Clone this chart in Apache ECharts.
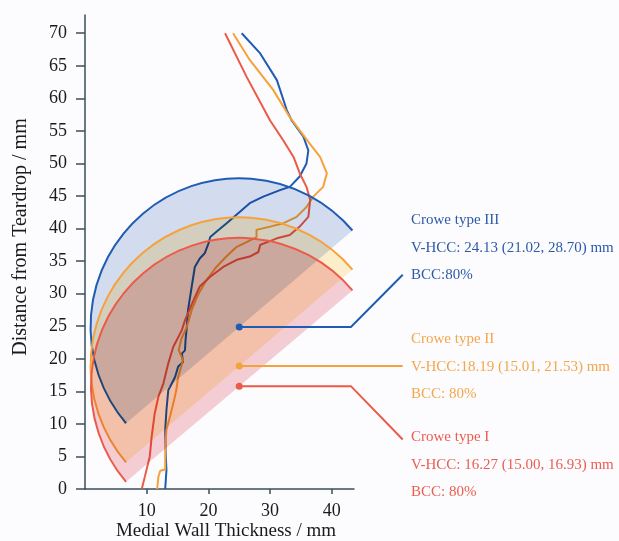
<!doctype html>
<html>
<head>
    <title>Crowe type medial wall thickness</title>
    <script src="https://cdn.jsdelivr.net/npm/echarts@6/dist/echarts.min.js"></script>
</head>
<style>
    html, body { margin: 0; padding: 0; background: #fcfcfe; }
    #main { width: 619px; height: 541px; }
</style>
<body>
<div id="main"></div>
<script>
  // medial wall thickness (x, mm) against distance from teardrop (y, mm)
  var blueCurve = [[13,0],[13.2,2.9],[13.1,5],[13,9.1],[13.2,12.1],[13.5,15.2],[13.8,15.7],[14.6,17.2],[15.1,18.8],
    [15.9,19.5],[15.7,20.8],[16.2,21.3],[16.3,22.9],[16.5,24.9],[16.7,27.5],[17.3,31.1],[17.8,34.1],[18.6,35.4],
    [19.4,36.2],[20,37.7],[20.3,38.7],[21.3,39.5],[23.2,41],[26.7,43.9],[28.9,44.9],[31.6,45.9],[33.2,46.4],
    [34.8,48],[35.9,50],[36.2,52],[35.4,54.1],[33.5,56.6],[32.7,58.2],[31.1,62.8],[28.4,66.9],[25.4,70]];
  var orangeCurve = [[11.7,0],[11.9,1.9],[12.2,2.8],[13,3],[13,4.5],[13.1,7.5],[13.2,9.1],[13.8,11.2],[14.4,13.5],
    [14.8,15.2],[15.1,17.2],[15.9,19.8],[15.2,21.3],[15.6,23],[16.5,24.9],[17.3,27.5],[18.4,30],[19.7,32.1],
    [21.3,34.1],[22.9,35.7],[24.6,37.2],[25.7,37.7],[27.8,38.7],[27.8,39.8],[30,40.3],[32.1,40.8],[34.3,41.8],
    [35.9,43.3],[37,44.9],[38.6,46.4],[39.2,48.5],[38.1,51],[36.2,53.3],[33.2,57.1],[30.5,61.3],[26.7,65.9],[24,70]];
  var redCurve = [[9.2,0],[9.7,1.9],[10.5,5],[10.8,8],[11.3,11.6],[11.9,14.2],[12.7,16.2],[13.5,19.3],[14.3,21.8],
    [15.7,24.4],[16.2,25.9],[17.6,29],[18.6,31.1],[20.3,32.6],[22.4,34.1],[24.6,35.2],[26.7,35.7],[28.1,36.4],
    [28.4,37.5],[31.1,38.5],[33.2,39],[34.8,40.3],[36.2,41.8],[36.5,44.4],[35.9,46.4],[34.8,48.5],[33.8,51],
    [32.1,53.6],[30,56.6],[26.2,63.3],[22.7,70]];

  // half discs: centre and lower-left end of the arc
  var discCentres = [[25,24.9],[25,18.9],[25,15.8]];
  var discEnds = [[6.65,10.1],[6.65,4.1],[6.65,1.1]];

  // leader lines from each centre to its label
  var leaders = [
    [[25,24.9],[43.1,24.9],[51.5,32.9]],
    [[25,18.9],[51.5,18.9]],
    [[25,15.8],[43.1,15.8],[51.5,7.6]]
  ];

  var groupNames = ['Crowe type III', 'Crowe type II', 'Crowe type I'];
  var hccLabels = ['V-HCC: 24.13 (21.02, 28.70) mm', 'V-HCC:18.19 (15.01, 21.53) mm', 'V-HCC: 16.27 (15.00, 16.93) mm'];
  var bccLabels = ['BCC:80%', 'BCC: 80%', 'BCC: 80%'];

  var yTicks = [0,5,10,15,20,25,30,35,40,45,50,55,60,65,70];
  var xTicks = [10,20,30,40];

  var lineColors = ['#1f5cb4', '#f5a23a', '#ec5a48'];
  // disc fills are multiplied onto what lies below, like the overlapping shading in the figure
  var fillColors = ['#d6deef', '#fff0cc', '#f6d0d4'];
  var textColors = ['#2d5aa8', '#f4a64c', '#ea5e4e'];
  var serif = '"Liberation Serif", "DejaVu Serif", serif';
  var axisColor = '#3a4f5c';

  var myChart = echarts.init(document.getElementById('main'));

  var discData = discCentres.map(function (c, i) {
    return [c[0], c[1], discEnds[i][0], discEnds[i][1]];
  });

  var texts = [];
  var textTop = [218, 337, 435];
  groupNames.forEach(function (n, i) {
    [n, hccLabels[i], bccLabels[i]].forEach(function (t, k) {
      texts.push({
        type: 'text', left: 411, top: textTop[i] + k * 27.5 - 9, z: 10,
        style: { text: t, fill: textColors[i], font: '15px ' + serif }
      });
    });
  });
  texts.push({
    type: 'text', x: 21, y: 237, rotation: Math.PI / 2, z: 10,
    style: { text: 'Distance from Teardrop / mm', fill: '#1a1a1a', font: '20px ' + serif,
      align: 'center', verticalAlign: 'middle' }
  });
  texts.push({
    type: 'text', x: 226, y: 531, z: 10,
    style: { text: 'Medial Wall Thickness / mm', fill: '#1a1a1a', font: '19px ' + serif,
      align: 'center', verticalAlign: 'middle' }
  });

  var option = {
    backgroundColor: '#fcfcfe',
    animation: false,
    grid: { left: 85, right: 265, top: 15, bottom: 52, outerBoundsMode: 'none' },
    xAxis: {
      type: 'value', min: 0, max: 43.6,
      splitLine: { show: false },
      axisLine: { lineStyle: { color: axisColor, width: 1.5 } },
      axisTick: { length: 5, lineStyle: { color: axisColor, width: 1.5 }, customValues: xTicks },
      axisLabel: { fontFamily: serif, fontSize: 18, color: '#1a1a1a', margin: 9, customValues: xTicks }
    },
    yAxis: {
      type: 'value', min: 0, max: 72.8,
      splitLine: { show: false },
      axisLine: { show: true, lineStyle: { color: axisColor, width: 1.5 } },
      axisTick: { show: true, length: 9, lineStyle: { color: axisColor, width: 1.5 }, customValues: yTicks },
      axisLabel: { fontFamily: serif, fontSize: 18, color: '#1a1a1a', margin: 18, customValues: yTicks }
    },
    graphic: texts,
    series: [
      { type: 'line', data: blueCurve, showSymbol: false, z: 1, lineStyle: { color: lineColors[0], width: 2 } },
      { type: 'line', data: orangeCurve, showSymbol: false, z: 1, lineStyle: { color: lineColors[1], width: 2 } },
      { type: 'line', data: redCurve, showSymbol: false, z: 1, lineStyle: { color: lineColors[2], width: 2 } },
      {
        type: 'custom', z: 2, data: discData,
        encode: { x: [0, 2], y: [1, 3] },
        renderItem: function (params, api) {
          var i = params.dataIndex;
          var c = api.coord([api.value(0), api.value(1)]);
          var e = api.coord([api.value(2), api.value(3)]);
          var r = Math.sqrt((e[0] - c[0]) * (e[0] - c[0]) + (e[1] - c[1]) * (e[1] - c[1]));
          var a = Math.atan2(e[1] - c[1], e[0] - c[0]);
          var shape = { cx: c[0], cy: c[1], r: r, r0: 0, startAngle: a, endAngle: a + Math.PI, clockwise: true };
          return {
            type: 'group',
            children: [
              { type: 'sector', name: 'disc', shape: shape, style: { fill: fillColors[i] } },
              { type: 'arc', shape: shape, style: { stroke: lineColors[i], lineWidth: 2, fill: null } }
            ]
          };
        }
      },
      {
        type: 'custom', z: 5, clip: false, data: [0, 1, 2],
        renderItem: function (params, api) {
          var i = params.dataIndex;
          var pts = leaders[i].map(function (p) { return api.coord(p); });
          return {
            type: 'group',
            children: [
              { type: 'polyline', shape: { points: pts }, style: { stroke: lineColors[i], lineWidth: 2, fill: null } },
              { type: 'circle', shape: { cx: pts[0][0], cy: pts[0][1], r: 3.5 }, style: { fill: lineColors[i] } }
            ]
          };
        }
      }
    ]
  };

  myChart.setOption(option);

  // multiply the disc fills onto the layers below
  var zr = myChart.getZr();
  zr.storage.getDisplayList(true).forEach(function (el) {
    if (el.name === 'disc') {
      el.style.blend = 'multiply';
      el.markRedraw();
    }
  });
  zr.refreshImmediately();
</script>
</body>
</html>
